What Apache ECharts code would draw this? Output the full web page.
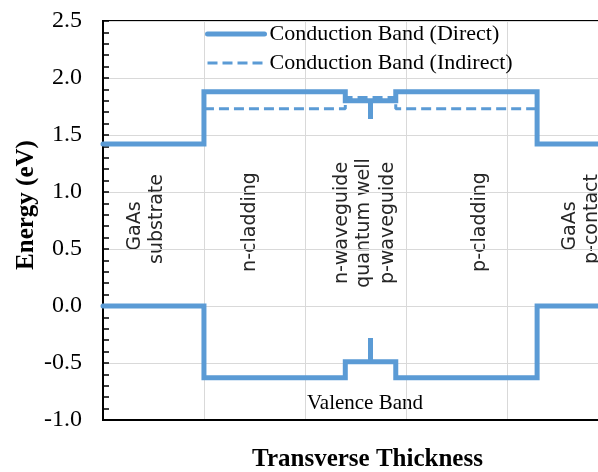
<!DOCTYPE html>
<html>
<head>
<meta charset="utf-8">
<script src="https://cdn.jsdelivr.net/npm/echarts@6/dist/echarts.min.js"></script>
<style>html,body{margin:0;padding:0;background:#fff;}#c{width:598px;height:472px;}</style>
</head>
<body>
<div id="c"></div>
<script>
// ---- data ----
const yTicks = [-1.0, -0.5, 0.0, 0.5, 1.0, 1.5, 2.0, 2.5];
const cbDirectX   = [0, 1, 1, 2.4, 2.4, 2.65, 2.65, 2.65, 2.9, 2.9, 4.3, 4.3, 5.24];
const cbDirectY   = [1.42, 1.42, 1.88, 1.88, 1.80, 1.80, 1.64, 1.80, 1.80, 1.88, 1.88, 1.42, 1.42];
const cbIndirectX = [1, 2.4, 2.4, 2.9, 2.9, 4.3];
const cbIndirectY = [1.73, 1.73, 1.83, 1.83, 1.73, 1.73];
const vbX = [0, 1, 1, 2.4, 2.4, 2.65, 2.65, 2.65, 2.9, 2.9, 4.3, 4.3, 5.24];
const vbY = [0, 0, -0.63, -0.63, -0.49, -0.49, -0.28, -0.49, -0.49, -0.63, -0.63, 0, 0];
const seriesNames = ['Conduction Band (Direct)', 'Conduction Band (Indirect)', 'Valence Band'];
const regionLabels = ['GaAs', 'substrate', 'n-cladding', 'n-waveguide', 'quantum well', 'p-waveguide', 'p-cladding', 'GaAs', 'p-contact'];

const zip = (xs, ys) => xs.map((x, i) => [x, ys[i]]);
const blue = '#5B9BD5';
const serif = '"Liberation Serif", "Times New Roman", serif';
const sans = '"DejaVu Sans", sans-serif';

const regionPos = [[135,226],[157,219],[250,222],[342,223],[364,223],[388,223],[480,222],[570,226],[592,219]];

const chart = echarts.init(document.getElementById('c'));
chart.setOption({
  animation: false,
  grid: { left: 103, top: 21, width: 529, height: 399, outerBoundsMode: 'none', containLabel: false,
          show: true, borderColor: '#000', borderWidth: 2, backgroundColor: 'transparent' },
  legend: {
    orient: 'vertical', left: 200, top: 18, itemWidth: 57, itemHeight: 14, itemGap: 7,
    itemStyle: { opacity: 0 },
    textStyle: { fontFamily: serif, fontSize: 22, color: '#000', lineHeight: 22 },
    data: [
      { name: seriesNames[0], lineStyle: { width: 5 }, itemStyle: { opacity: 0 } },
      { name: seriesNames[1], lineStyle: { width: 3, type: [10, 5] }, itemStyle: { opacity: 0 } }
    ]
  },
  xAxis: {
    type: 'value', min: 0, max: 5.24, interval: 1,
    axisLine: { onZero: false, lineStyle: { color: '#000', width: 2 } },
    axisTick: { show: false }, axisLabel: { show: false },
    splitLine: { show: true, lineStyle: { color: '#d9d9d9', width: 1 } }
  },
  yAxis: {
    type: 'value', min: -1.0, max: 2.5, interval: 0.5,
    axisLine: { show: true, onZero: false, lineStyle: { color: '#000', width: 2 } },
    axisTick: { show: true, inside: true, length: 6, lineStyle: { color: '#000', width: 1.5 } },
    minorTick: { show: true, splitNumber: 5, length: 6, lineStyle: { color: '#000', width: 1.5 } },
    axisLabel: { fontFamily: serif, fontSize: 24, color: '#000', margin: 21,
      formatter: v => yTicks.includes(+v.toFixed(1)) ? v.toFixed(1) : '' },
    splitLine: { show: true, lineStyle: { color: '#d9d9d9', width: 1 } }
  },
  series: [
    { name: seriesNames[0], type: 'line', symbol: 'none', data: zip(cbDirectX, cbDirectY),
      lineStyle: { color: blue, width: 5, cap: 'round', join: 'miter' }, itemStyle: { color: blue }, z: 3 },
    { name: seriesNames[1], type: 'line', symbol: 'none', data: zip(cbIndirectX, cbIndirectY),
      lineStyle: { color: blue, width: 3, type: [10, 5] }, itemStyle: { color: blue }, z: 4 },
    { name: seriesNames[2], type: 'line', symbol: 'none', data: zip(vbX, vbY),
      lineStyle: { color: blue, width: 5, cap: 'round', join: 'miter' }, itemStyle: { color: blue }, z: 3 }
  ],
  graphic: [
    { type: 'text', x: 27, y: 205, rotation: Math.PI / 2,
      style: { text: 'Energy (eV)', font: 'bold 25px ' + serif, fill: '#000', align: 'center', verticalAlign: 'middle' } },
    { type: 'text', x: 367.5, y: 460,
      style: { text: 'Transverse Thickness', font: 'bold 25px ' + serif, fill: '#000', align: 'center', verticalAlign: 'middle' } },
    { type: 'text', x: 365, y: 403,
      style: { text: seriesNames[2], font: '21px ' + serif, fill: '#000', align: 'center', verticalAlign: 'middle' } }
  ].concat(regionLabels.map((t, i) => ({
    type: 'text', x: regionPos[i][0], y: regionPos[i][1], rotation: Math.PI / 2,
    style: { text: t, font: '19px ' + sans, fill: '#262626', align: 'center', verticalAlign: 'middle' }
  })))
});
</script>
</body>
</html>
